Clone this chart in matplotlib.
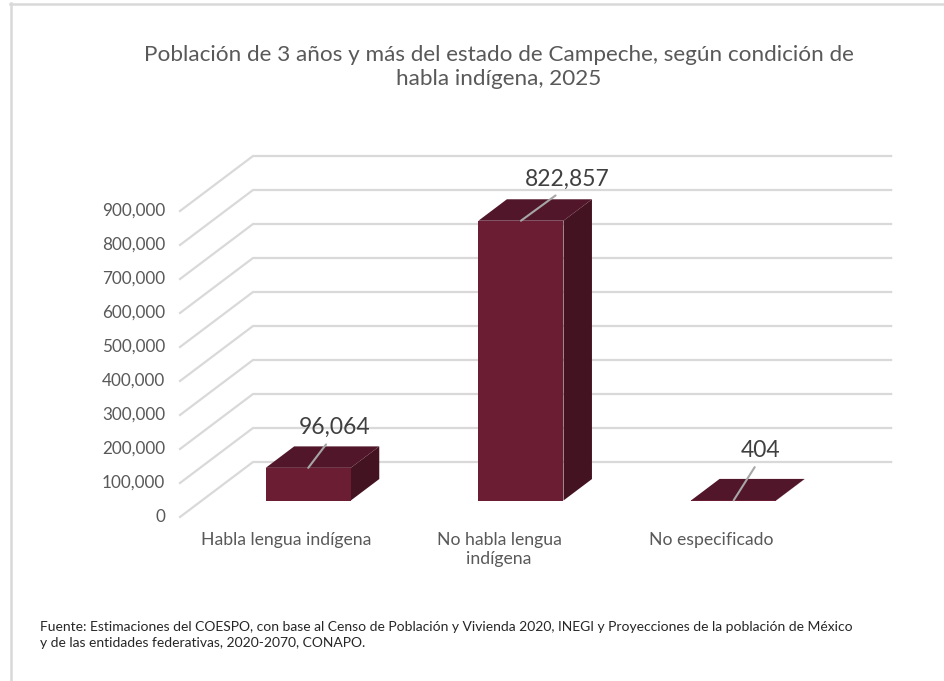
import numpy as np
import matplotlib
matplotlib.use("Agg")
import matplotlib.pyplot as plt
from matplotlib.patches import Polygon
from matplotlib.lines import Line2D

plt.rcParams["font.family"] = ["Lato", "DejaVu Sans"]

# --- data ---
categories = ["Habla lengua indígena", "No habla lengua\nindígena", "No especificado"]
values = [96064, 822857, 404]
value_labels = ["96,064", "822,857", "404"]
y_ticks = [0, 100000, 200000, 300000, 400000, 500000, 600000, 700000, 800000, 900000]
y_tick_labels = [f"{v:,}" for v in y_ticks]

title = ("Población de 3 años y más del estado de Campeche, según condición de\n"
         "habla indígena, 2025")
source = ("Fuente: Estimaciones del COESPO, con base al Censo de Población y Vivienda 2020, "
          "INEGI y Proyecciones de la población de México\n"
          "y de las entidades federativas, 2020-2070, CONAPO.")

# --- style / layout ---
W, H = 945, 681
FRONT_C = "#6B1D33"
TOP_C = "#52162A"
SIDE_C = "#441321"
GRID_C = "#D9D9D9"
TXT_C = "#595959"

SLOT_PX = 212.7        # width of one category on the front plane
PX_PER_100K = 34.0
DEPTH_PX = (73, 55)    # floor depth offset on screen
X0_PX, Y0_PX = 180, 517  # front-plane origin (value 0, left edge)
TOP_PX = 150

DX = DEPTH_PX[0] / SLOT_PX
DY = DEPTH_PX[1] / PX_PER_100K * 100000
D0, D1 = 0.30, 0.69    # bar depth span (fraction of floor)
BAR_W = 0.40


def proj(x, v, d):
    return (x + d * DX, v + d * DY)


fig = plt.figure(figsize=(W / 100, H / 100), dpi=100)
ax_left = X0_PX / W
ax_bottom = 1 - Y0_PX / H
ax_w = (3 * SLOT_PX + DEPTH_PX[0]) / W
ax_h = (Y0_PX - TOP_PX) / H
ax = fig.add_axes([ax_left, ax_bottom, ax_w, ax_h])
ax.set_xlim(0, 3 + DX)
ax.set_ylim(0, (Y0_PX - TOP_PX) / PX_PER_100K * 100000)
ax.axis("off")

# gridlines: diagonal on the left wall + horizontal on the back wall
n = len(categories)
for v, lab in zip(y_ticks, y_tick_labels):
    pts = [proj(0, v, 0), proj(0, v, 1), proj(n, v, 1)]
    ax.plot([p[0] for p in pts], [p[1] for p in pts], color=GRID_C, lw=1.6,
            clip_on=False, zorder=1, solid_joinstyle="miter")
    ax.annotate(lab, (0, v), xytext=(-15, 0), textcoords="offset pixels",
                ha="right", va="center", fontsize=12.3, color=TXT_C,
                annotation_clip=False)

# bars
label_offsets = [(26, 40), (46, 41), (27, 50)]
for i, (h, vl) in enumerate(zip(values, value_labels)):
    xc = i + 0.5
    xl, xr = xc - BAR_W / 2, xc + BAR_W / 2
    top = [proj(xl, h, D0), proj(xr, h, D0), proj(xr, h, D1), proj(xl, h, D1)]
    side = [proj(xr, 0, D0), proj(xr, h, D0), proj(xr, h, D1), proj(xr, 0, D1)]
    front = [proj(xl, 0, D0), proj(xr, 0, D0), proj(xr, h, D0), proj(xl, h, D0)]
    ax.add_patch(Polygon(side, closed=True, fc=SIDE_C, ec="none", zorder=3, clip_on=False))
    ax.add_patch(Polygon(top, closed=True, fc=TOP_C, ec="none", zorder=3, clip_on=False))
    ax.add_patch(Polygon(front, closed=True, fc=FRONT_C, ec="none", zorder=4, clip_on=False))

    anchor = proj(xc, h, D0)
    ax.annotate(vl, anchor, xytext=label_offsets[i], textcoords="offset pixels",
                ha="center", va="center", fontsize=16.5, color="#404040",
                annotation_clip=False, zorder=6,
                arrowprops=dict(arrowstyle="-", color="#A6A6A6", lw=1.5,
                                shrinkA=3, shrinkB=0, relpos=(0.45, 0)))

    ax.annotate(categories[i], (xc, 0), xytext=(0, -15), textcoords="offset pixels",
                ha="center", va="top", fontsize=12.7, color=TXT_C,
                linespacing=1.25, annotation_clip=False)

# title and source
fig.text(499 / W, 1 - 45 / H, title, ha="center", va="top", fontsize=16.2,
         color=TXT_C, linespacing=1.25)
fig.text(40 / W, 1 - 621 / H, source, ha="left", va="top", fontsize=10,
         color="#262626", linespacing=1.4)

# outer frame (top and left edges visible)
fig.add_artist(Line2D([11 / W, 11 / W], [0, 1 - 3 / H], color=GRID_C, lw=1.8,
                      transform=fig.transFigure))
fig.add_artist(Line2D([10 / W, 1], [1 - 4 / H, 1 - 4 / H], color=GRID_C, lw=1.8,
                      transform=fig.transFigure))

fig.savefig("out.png", dpi=100)
